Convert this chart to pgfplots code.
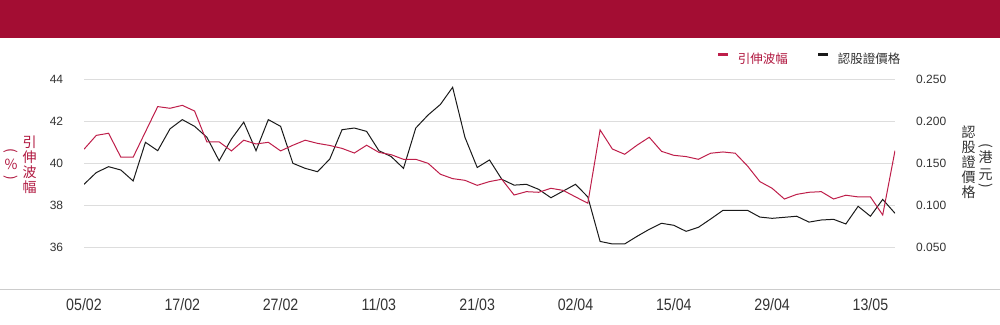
\documentclass[border=0pt]{standalone}
\usepackage{graphicx}
\usepackage{pgfplots}
\pgfplotsset{compat=1.18}
\usepackage{fontspec}
\setmainfont{Liberation Sans}
\newfontfamily\cjk{Noto Sans CJK TC}
\newfontfamily\narrowfont[FakeStretch=0.86]{Liberation Sans}
\definecolor{banner}{HTML}{A30D33}
\definecolor{linered}{HTML}{BE1E4A}
\definecolor{legred}{HTML}{B0173F}
\definecolor{lineblack}{HTML}{1A1A1A}
\definecolor{txtgray}{HTML}{333333}
\definecolor{gridgray}{HTML}{DDDDDD}
\definecolor{sepgray}{HTML}{CCCCCC}

\pgfplotstableread{
i v
0 40.67
1 41.33
2 41.43
3 40.29
4 40.29
5 41.50
6 42.70
7 42.62
8 42.76
9 42.49
10 41.02
11 41.02
12 40.59
13 41.10
14 40.92
15 41.00
16 40.59
17 40.86
18 41.10
19 40.95
20 40.85
21 40.71
22 40.49
23 40.86
24 40.52
25 40.41
26 40.19
27 40.19
28 40.00
29 39.48
30 39.27
31 39.19
32 38.95
33 39.13
34 39.24
35 38.49
36 38.65
37 38.62
38 38.81
39 38.71
40 38.40
41 38.10
42 41.59
43 40.68
44 40.43
45 40.86
46 41.24
47 40.57
48 40.38
49 40.32
50 40.19
51 40.48
52 40.54
53 40.48
54 39.87
55 39.13
56 38.81
57 38.30
58 38.52
59 38.62
60 38.65
61 38.30
62 38.48
63 38.40
64 38.40
65 37.54
66 40.60
}\volatility

\pgfplotstableread{
i p
0 0.125
1 0.139
2 0.146
3 0.142
4 0.129
5 0.175
6 0.165
7 0.191
8 0.202
9 0.194
10 0.181
11 0.153
12 0.179
13 0.199
14 0.165
15 0.202
16 0.194
17 0.150
18 0.144
19 0.140
20 0.155
21 0.190
22 0.192
23 0.188
24 0.165
25 0.158
26 0.144
27 0.192
28 0.2075
29 0.220
30 0.2405
31 0.181
32 0.145
33 0.154
34 0.131
35 0.124
36 0.125
37 0.119
38 0.109
39 0.117
40 0.125
41 0.110
42 0.057
43 0.054
44 0.054
45 0.063
46 0.0714
47 0.0786
48 0.0762
49 0.069
50 0.0738
51 0.0837
52 0.094
53 0.094
54 0.094
55 0.086
56 0.0845
57 0.0857
58 0.087
59 0.080
60 0.0825
61 0.0833
62 0.0778
63 0.0988
64 0.087
65 0.107
66 0.0905
}\price

\begin{document}
\begin{tikzpicture}
\path[use as bounding box] (0pt,0pt) rectangle (1000pt,-324pt);
\fill[banner] (0pt,0pt) rectangle (1000pt,-37.5pt);
\draw[sepgray, line width=1pt] (0pt,-289.5pt) -- (1000pt,-289.5pt);

% right axis: price (black) + grid
\begin{axis}[
  at={(84pt,-268.3pt)}, anchor=south west,
  scale only axis, width=811pt, height=210pt,
  xmin=0, xmax=66, ymin=0.025, ymax=0.275,
  xtick=\empty,
  ytick={0.05,0.1,0.15,0.2,0.25},
  yticklabel pos=right,
  scaled y ticks=false,
  axis line style={draw=none},
  major tick length=0pt,
  ymajorgrids, grid style={draw=gridgray, line width=1pt},
  /pgf/number format/fixed,
  /pgf/number format/fixed zerofill,
  /pgf/number format/precision=3,
  /pgf/number format/assume math mode=true,
  every y tick label/.append style={anchor=west, inner sep=0pt, xshift=21pt, text=txtgray, font=\fontsize{12}{14}\selectfont},
]
\addplot[lineblack, line width=1pt, no markers] table[x=i, y=p] {\price};
\end{axis}

% left axis: volatility (red)
\begin{axis}[
  at={(84pt,-268.3pt)}, anchor=south west,
  scale only axis, width=811pt, height=210pt,
  xmin=0, xmax=66, ymin=35, ymax=45,
  xtick={0,8,16,24,32,40,48,56,64},
  xticklabels={05/02,17/02,27/02,11/03,21/03,02/04,15/04,29/04,13/05},
  ytick={36,38,40,42,44},
  axis line style={draw=none},
  major tick length=0pt,
  /pgf/number format/assume math mode=true,
  every y tick label/.append style={anchor=east, inner sep=0pt, xshift=-20.7pt, text=txtgray, font=\fontsize{12}{14}\selectfont},
  every x tick label/.append style={anchor=center, yshift=-36.4pt, text=txtgray, font=\narrowfont\fontsize{16.5}{18}\selectfont},
  legend columns=2,
  legend style={at={(0.7805,0.9967)}, anchor=west, draw=none, fill=none, inner sep=0pt, outer sep=0pt,
    nodes={inner sep=0pt, font=\cjk\fontsize{12.5}{14}\selectfont},
    /tikz/every odd column/.append style={column sep=8pt},
    /tikz/every even column/.append style={column sep=29pt}},
  legend image code/.code={\draw[line width=3pt] (0pt,4pt) -- (10pt,4pt);},
]
\addplot[linered, line width=1pt, no markers] table[x=i, y=v] {\volatility};
\addlegendentry{\textcolor{legred}{引伸波幅}}
\addlegendimage{lineblack, line width=1pt}
\addlegendentry{\textcolor{txtgray}{認股證價格}}
\end{axis}

% axis titles
\node[text=legred, font=\cjk\fontsize{14}{15}\selectfont, align=center, inner sep=0pt] at (29.7pt,-165pt) {引\\伸\\波\\幅};
\node[text=legred, font=\cjk\fontsize{14}{15}\selectfont, inner sep=0pt] at (11pt,-151pt) {\rotatebox{-90}{(}};
\node[text=legred, font=\cjk\fontsize{14}{15}\selectfont, inner sep=0pt] at (11pt,-164pt) {\%};
\node[text=legred, font=\cjk\fontsize{14}{15}\selectfont, inner sep=0pt] at (11pt,-177.5pt) {\rotatebox{-90}{)}};

\node[text=txtgray, font=\cjk\fontsize{14}{15}\selectfont, align=center, inner sep=0pt] at (968.5pt,-162.5pt) {認\\股\\證\\價\\格};
\node[text=txtgray, font=\cjk\fontsize{14}{15}\selectfont, inner sep=0pt] at (985.5pt,-146pt) {\rotatebox{-90}{(}};
\node[text=txtgray, font=\cjk\fontsize{14}{15}\selectfont, inner sep=0pt] at (985.5pt,-157.5pt) {港};
\node[text=txtgray, font=\cjk\fontsize{14}{15}\selectfont, inner sep=0pt] at (985.5pt,-175pt) {元};
\node[text=txtgray, font=\cjk\fontsize{14}{15}\selectfont, inner sep=0pt] at (985.5pt,-186pt) {\rotatebox{-90}{)}};
\end{tikzpicture}
\end{document}
